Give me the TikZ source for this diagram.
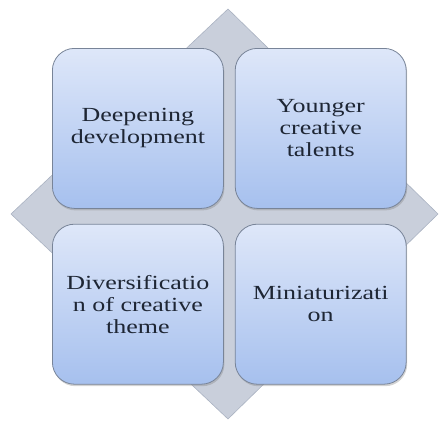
\documentclass[tikz,border=0pt]{standalone}
\usepackage{fontspec}
\setmainfont{Liberation Serif}[FakeStretch=1.3]
\usepackage{xcolor}
\usepackage{tikz}
\definecolor{diamondgray}{RGB}{201, 207, 219}
\definecolor{diamondedge}{RGB}{170, 178, 194}
\definecolor{boxtop}{RGB}{222, 231, 249}
\definecolor{boxbottom}{RGB}{166, 192, 238}
\definecolor{boxedge}{RGB}{120, 132, 152}
\definecolor{textdark}{RGB}{30, 38, 52}
\usetikzlibrary{positioning, shadows}

\begin{document}
\begin{tikzpicture}[
    x=1pt, y=-1pt,
    node distance=15pt and 11pt,
    quadrant/.style={rectangle, rounded corners=22pt, draw=boxedge, line width=0.8pt,
                     top color=boxtop, bottom color=boxbottom,
                     minimum width=171pt, minimum height=160pt, inner sep=0pt,
                     align=center, text=textdark,
                     font=\fontsize{20}{22}\selectfont,
                     drop shadow={opacity=0.35, shadow xshift=1pt, shadow yshift=-2pt}}
]
    \useasboundingbox (0,0) rectangle (440,423);
    % background diamond
    \draw[fill=diamondgray, draw=diamondedge, line width=0.6pt]
        (228,9) -- (438,214) -- (228,419) -- (11,214) -- cycle;

    \node[quadrant, anchor=north west] (tl) at (52,48) {Deepening\\development};
    \node[quadrant, right=of tl] (tr) {Younger\\creative\\talents};
    \node[quadrant, below=of tl] (bl) {Diversificatio\\n of creative\\theme};
    \node[quadrant, below=of tr] (br) {Miniaturizati\\on};
\end{tikzpicture}
\end{document}
